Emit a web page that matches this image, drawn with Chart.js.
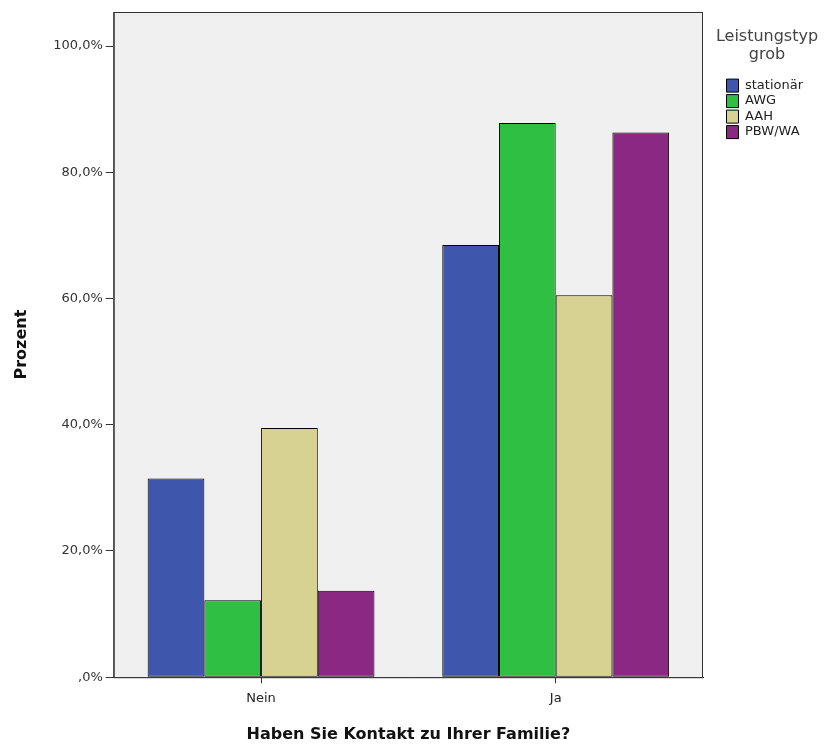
<!DOCTYPE html>
<html>
<head>
<meta charset="utf-8">
<script src="https://cdn.jsdelivr.net/npm/chart.js@4"></script>
<style>
  html, body { margin: 0; padding: 0; background: #fff; }
  #wrap { width: 829px; height: 747px; }
</style>
</head>
<body>
<div id="wrap"><canvas id="kontaktChart"></canvas></div>
<script>
// Categories and series
const categories = ['Nein', 'Ja'];
const stationaer = [31.5, 68.5];
const awg = [12.2, 87.8];
const aah = [39.5, 60.5];
const pbwwa = [13.7, 86.3];
const yTicks = [0, 20, 40, 60, 80, 100];

const font = '"DejaVu Sans", Verdana, sans-serif';

// Light grey plot background plus a frame round the plot area
const plotFrame = {
  id: 'plotFrame',
  beforeLayout(chart) {
    // give the legend a fixed column on the right, items indented a bit
    const lg = chart.legend;
    if (lg && !lg._fixedWidth) {
      const fit = lg.fit;
      lg.fit = function () { fit.call(this); this.width = 126; };
      const innerDraw = lg._draw;
      lg._draw = function () {
        const l = this.left, w = this.width;
        this.left = 724; this.width = 86;
        innerDraw.call(this);
        this.left = l; this.width = w;
      };
      lg._fixedWidth = true;
    }
  },
  beforeDatasetsDraw(chart) {
    const a = chart.chartArea, ctx = chart.ctx;
    ctx.save();
    ctx.fillStyle = '#f0f0f0';
    ctx.fillRect(a.left, a.top, a.right - a.left, a.bottom - a.top);
    ctx.restore();
  },
  afterDraw(chart) {
    const a = chart.chartArea, ctx = chart.ctx;
    ctx.save();
    ctx.strokeStyle = '#333';
    ctx.lineWidth = 1;
    ctx.strokeRect(a.left + 0.5, a.top + 0.5, a.right - a.left - 1, a.bottom - a.top);
    ctx.restore();
  }
};

const barStyle = { borderColor: '#000', borderWidth: 1, borderSkipped: false };

new Chart(document.getElementById('kontaktChart'), {
  type: 'bar',
  data: {
    labels: categories,
    datasets: [
      { label: 'stationär', data: stationaer, backgroundColor: '#3e57ad', ...barStyle },
      { label: 'AWG', data: awg, backgroundColor: '#2fbf42', ...barStyle },
      { label: 'AAH', data: aah, backgroundColor: '#d8d292', ...barStyle },
      { label: 'PBW/WA', data: pbwwa, backgroundColor: '#8a2883', ...barStyle }
    ]
  },
  options: {
    responsive: true,
    maintainAspectRatio: false,
    animation: false,
    layout: { padding: { top: 12, left: 12, bottom: 3, right: 0 } },
    datasets: { bar: { categoryPercentage: 0.77, barPercentage: 1.0 } },
    plugins: {
      tooltip: { enabled: false },
      legend: {
        position: 'right',
        align: 'start',
        title: {
          display: true,
          text: ['Leistungstyp', 'grob'],
          color: '#444',
          font: { family: font, size: 16, lineHeight: 1.1 },
          padding: { top: 17, bottom: 30 }
        },
        labels: {
          color: '#222',
          font: { family: font, size: 13 },
          boxWidth: 12,
          boxHeight: 13,
          padding: 2.5
        }
      }
    },
    scales: {
      x: {
        grid: { display: true, drawOnChartArea: false, offset: false, color: '#333', tickLength: 6 },
        border: { color: '#333' },
        ticks: { color: '#222', font: { family: font, size: 13 }, padding: 8 },
        title: {
          display: true,
          text: 'Haben Sie Kontakt zu Ihrer Familie?',
          color: '#111',
          font: { family: font, size: 16, weight: 'bold' },
          padding: { top: 10, bottom: 0 }
        }
      },
      y: {
        min: 0,
        max: 105.4,
        afterBuildTicks(scale) { scale.ticks = yTicks.map(v => ({ value: v })); },
        grid: { display: true, drawOnChartArea: false, color: '#333', tickLength: 8 },
        border: { color: '#333' },
        ticks: {
          color: '#333',
          font: { family: font, size: 13 },
          padding: 3,
          callback: v => (v === 0 ? ',0%' : v.toFixed(1).replace('.', ',') + '%')
        },
        title: {
          display: true,
          text: 'Prozent',
          color: '#111',
          font: { family: font, size: 16, weight: 'bold' },
          padding: { top: 0, bottom: 19 }
        }
      }
    }
  },
  plugins: [plotFrame]
});
</script>
</body>
</html>
